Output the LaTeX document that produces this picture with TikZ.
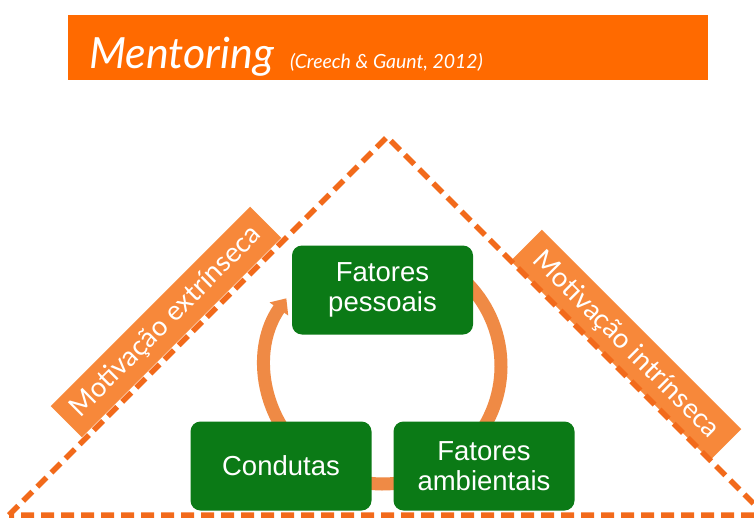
\documentclass[tikz,border=0pt]{standalone}
\usepackage{fontspec}
\setmainfont{Liberation Sans}
\newfontfamily\latofont{Lato}
\usetikzlibrary{arrows.meta}
\definecolor{titleorange}{HTML}{FF6A00}
\definecolor{dashorange}{HTML}{F26A1B}
\definecolor{labelorange}{HTML}{F7883A}
\definecolor{boxgreen}{HTML}{0B7A16}
\definecolor{cycleorange}{HTML}{EF8A45}
\begin{document}
\begin{tikzpicture}[x=1pt,y=-1pt,
  titlebar/.style={fill=titleorange, minimum width=640pt, minimum height=65pt, inner sep=0pt},
  dashline/.style={draw=dashorange, line width=5.5pt, dash pattern=on 13pt off 7pt},
  motlabel/.style={fill=labelorange, text=white, minimum width=282pt, minimum height=44pt, inner sep=0pt,
    font=\latofont\fontsize{27.5}{27.5}\selectfont},
  greenbox/.style={fill=boxgreen, text=white, rounded corners=10pt, minimum width=181pt, minimum height=89pt,
    inner sep=0pt, align=center, font=\fontsize{27.5}{30}\selectfont},
  cyclearrow/.style={draw=cycleorange, line width=13pt, -{Triangle[length=13pt,width=22pt]}}
]
\useasboundingbox (0,0) rectangle (754,519);
\fill[white] (0,0) rectangle (754,519);
% title
\node[titlebar] (title) at (388,47.5) {};
\node[anchor=base west, inner sep=0pt, text=white, font=\latofont\itshape\fontsize{43}{43}\selectfont] (mentoring) at (89,68) {Mentoring};
\node[anchor=base west, inner sep=0pt, text=white, font=\latofont\itshape\fontsize{19.5}{19.5}\selectfont] (cite) at (290,68) {(Creech \& Gaunt, 2012)};
% labels
\node[motlabel, rotate=45] (ext) at (166,322) {Motivação extrínseca};
\node[motlabel, rotate=-45] (int) at (626,345) {Motivação intrínseca};
% dashed triangle
\coordinate (apex) at (387,137);
\coordinate (bl) at (9,515);
\coordinate (br) at (765,515);
\draw[dashline] (bl) -- (apex) -- (br) -- cycle;
% cycle
\coordinate (cyc) at (383,366);
\draw[cyclearrow] (cyc) ++(-50:118) arc[start angle=-50, end angle=215, radius=118];
% boxes
\node[greenbox] (pess) at (382.5,290) {Fatores\\pessoais};
\node[greenbox] (cond) at (281,466) {Condutas};
\node[greenbox] (amb) at (484,466) {Fatores\\ambientais};
\end{tikzpicture}
\end{document}
